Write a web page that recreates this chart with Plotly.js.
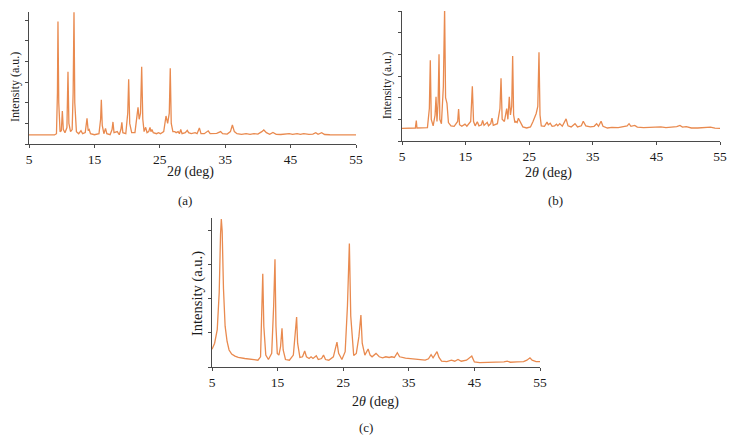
<!DOCTYPE html>
<html>
<head>
<meta charset="utf-8">
<script src="https://cdn.plot.ly/plotly-3.0.1.min.js"></script>
<style>
  html, body { margin: 0; padding: 0; background: #fff; }
  #chart { width: 734px; height: 441px; }
</style>
</head>
<body>
<div id="chart"></div>
<script>
const angleA = [5.0, 8.9, 9.2, 9.35, 9.43, 9.55, 9.75, 9.95, 10.1, 10.25, 10.5, 10.8, 10.96, 11.1, 11.35, 11.6, 11.75, 11.88, 12.0, 12.25, 12.6, 12.95, 13.2, 13.6, 13.87, 14.05, 14.2, 14.4, 15.0, 15.7, 15.95, 16.06, 16.2, 16.45, 16.7, 16.9, 17.4, 17.7, 17.84, 18.0, 18.5, 18.8, 19.05, 19.2, 19.35, 19.8, 20.1, 20.24, 20.4, 20.7, 21.2, 21.5, 21.67, 21.85, 22.05, 22.23, 22.4, 22.6, 22.84, 23.05, 23.3, 23.5, 23.65, 23.8, 24.0, 24.5, 24.8, 25.1, 25.6, 25.95, 26.2, 26.45, 26.6, 26.75, 27.0, 27.3, 27.5, 27.8, 28.0, 28.2, 28.4, 28.9, 29.2, 29.4, 29.8, 30.4, 30.7, 31.05, 31.3, 31.8, 32.4, 32.7, 33.3, 33.7, 34.3, 34.6, 35.3, 35.8, 36.1, 36.4, 36.8, 37.5, 38.2, 38.8, 39.4, 40.0, 40.6, 40.9, 41.3, 41.8, 42.3, 42.8, 43.5, 44.2, 44.8, 45.3, 46.0, 46.5, 47.0, 47.8, 48.4, 48.85, 49.2, 49.75, 50.2, 51.0, 52.0, 53.0, 53.5, 54.2, 55.0];
const intensityA = [0.44, 0.44, 0.5, 2.5, 5.94, 2.0, 0.6, 0.65, 1.6, 0.7, 0.55, 0.8, 3.51, 1.0, 0.6, 0.7, 2.5, 6.46, 2.0, 0.6, 0.5, 0.65, 0.5, 0.55, 1.25, 0.65, 0.7, 0.5, 0.45, 0.5, 1.2, 2.14, 0.9, 0.5, 0.76, 0.5, 0.45, 0.7, 1.07, 0.55, 0.6, 0.45, 0.7, 1.05, 0.55, 0.5, 1.5, 3.14, 1.0, 0.55, 0.55, 1.2, 1.78, 1.2, 1.5, 3.75, 1.2, 0.6, 0.81, 0.55, 0.6, 0.8, 0.6, 0.7, 0.55, 0.5, 0.55, 0.5, 0.6, 1.36, 1.0, 1.5, 3.67, 1.0, 0.6, 0.6, 0.55, 0.6, 0.5, 0.7, 0.5, 0.55, 0.66, 0.55, 0.5, 0.55, 0.5, 0.78, 0.5, 0.5, 0.64, 0.5, 0.5, 0.52, 0.6, 0.5, 0.48, 0.6, 0.92, 0.6, 0.5, 0.47, 0.5, 0.47, 0.5, 0.48, 0.6, 0.68, 0.55, 0.47, 0.56, 0.47, 0.46, 0.5, 0.5, 0.47, 0.5, 0.47, 0.5, 0.47, 0.48, 0.55, 0.47, 0.55, 0.46, 0.45, 0.45, 0.47, 0.44, 0.45, 0.44];

const angleB = [5.0, 7.1, 7.25, 7.35, 9.0, 9.3, 9.45, 9.6, 9.9, 10.2, 10.35, 10.5, 10.68, 10.82, 10.95, 11.2, 11.5, 11.7, 11.85, 12.07, 12.3, 12.7, 13.2, 13.75, 13.9, 14.05, 14.4, 14.9, 15.2, 15.8, 16.06, 16.25, 16.5, 16.84, 17.1, 17.5, 17.68, 17.9, 18.4, 18.6, 18.95, 19.15, 19.35, 20.0, 20.4, 20.57, 20.75, 21.1, 21.46, 21.65, 21.87, 22.05, 22.25, 22.4, 22.55, 22.75, 22.9, 23.1, 23.3, 23.6, 24.0, 24.6, 25.2, 25.6, 25.8, 26.1, 26.35, 26.54, 26.7, 26.9, 27.4, 27.8, 28.0, 28.3, 28.6, 29.0, 29.3, 29.5, 29.8, 30.2, 30.8, 31.1, 31.6, 32.2, 32.6, 33.2, 33.5, 33.9, 34.6, 35.2, 35.6, 35.9, 36.3, 36.6, 37.3, 38.0, 39.0, 39.8, 40.4, 40.7, 41.0, 41.6, 42.0, 43.0, 44.0, 45.0, 45.7, 46.5, 47.5, 48.2, 48.7, 49.1, 49.7, 50.5, 51.5, 52.5, 53.5, 54.2, 55.0];
const intensityB = [0.58, 0.6, 0.94, 0.6, 0.62, 1.5, 3.73, 1.0, 0.7, 1.2, 2.04, 0.9, 1.8, 4.0, 1.0, 0.8, 2.5, 6.1, 2.0, 1.74, 0.85, 0.7, 0.68, 0.9, 1.47, 0.75, 0.68, 0.78, 0.68, 0.9, 2.53, 0.9, 0.7, 0.89, 0.7, 0.75, 0.95, 0.72, 0.86, 0.7, 0.8, 1.06, 0.72, 0.8, 1.5, 2.89, 1.0, 0.9, 1.5, 1.0, 2.04, 1.2, 1.6, 3.92, 1.2, 0.85, 0.9, 0.85, 1.05, 0.85, 0.65, 0.6, 0.65, 0.9, 1.07, 1.27, 1.6, 4.09, 1.2, 0.7, 0.68, 0.87, 0.75, 0.82, 0.68, 0.7, 0.78, 0.7, 0.8, 0.68, 1.02, 0.7, 0.65, 0.8, 0.65, 0.7, 0.91, 0.7, 0.65, 0.68, 0.8, 0.68, 0.91, 0.68, 0.6, 0.63, 0.62, 0.65, 0.7, 0.8, 0.68, 0.72, 0.64, 0.62, 0.63, 0.62, 0.65, 0.62, 0.63, 0.66, 0.72, 0.64, 0.66, 0.6, 0.6, 0.61, 0.64, 0.59, 0.58];

const angleC = [5.0, 5.4, 5.8, 6.1, 6.3, 6.42, 6.55, 6.75, 7.0, 7.3, 7.6, 8.0, 8.5, 9.0, 10.0, 11.0, 12.0, 12.4, 12.6, 12.74, 12.9, 13.2, 13.6, 14.1, 14.4, 14.6, 14.75, 14.95, 15.2, 15.45, 15.67, 15.85, 16.2, 16.8, 17.4, 17.75, 17.9, 18.05, 18.4, 18.8, 19.13, 19.4, 19.8, 20.1, 20.4, 20.9, 21.2, 21.7, 22.0, 22.3, 22.8, 23.5, 23.85, 24.05, 24.3, 24.8, 25.3, 25.65, 25.94, 26.15, 26.6, 27.0, 27.4, 27.7, 27.9, 28.3, 28.8, 29.1, 29.4, 29.8, 30.0, 30.5, 31.0, 31.5, 32.0, 32.4, 32.8, 33.25, 33.6, 34.5, 35.5, 36.5, 37.5, 38.0, 38.4, 38.7, 39.0, 39.3, 39.6, 40.0, 40.8, 41.5, 42.0, 42.5, 43.0, 43.8, 44.6, 45.0, 45.8, 46.5, 47.5, 48.5, 49.5, 50.0, 50.5, 51.5, 52.5, 53.0, 53.47, 53.8, 54.4, 55.0];
const intensityC = [0.52, 0.7, 1.1, 2.2, 3.9, 4.35, 4.0, 2.3, 1.2, 0.75, 0.5, 0.38, 0.32, 0.28, 0.25, 0.22, 0.2, 0.3, 1.5, 2.74, 1.2, 0.35, 0.22, 0.4, 1.8, 3.17, 1.2, 0.4, 0.35, 0.6, 1.14, 0.5, 0.22, 0.2, 0.35, 1.0, 1.47, 0.7, 0.28, 0.3, 0.47, 0.3, 0.25, 0.3, 0.25, 0.33, 0.22, 0.25, 0.35, 0.22, 0.2, 0.3, 0.55, 0.73, 0.4, 0.22, 0.45, 1.8, 3.63, 1.5, 0.34, 0.4, 0.9, 1.53, 0.7, 0.35, 0.53, 0.35, 0.3, 0.38, 0.4, 0.3, 0.27, 0.3, 0.28, 0.3, 0.28, 0.42, 0.3, 0.26, 0.24, 0.22, 0.2, 0.24, 0.36, 0.27, 0.35, 0.45, 0.28, 0.17, 0.16, 0.2, 0.17, 0.22, 0.17, 0.2, 0.32, 0.15, 0.13, 0.13, 0.14, 0.15, 0.15, 0.17, 0.14, 0.15, 0.16, 0.2, 0.27, 0.2, 0.16, 0.16];

const angleTicks = [5, 15, 25, 35, 45, 55];
const panelLabels = ['(a)', '(b)', '(c)'];

const lineColor = '#e98a4f';
const axisColor = '#4a4a4a';
const serif = '"Liberation Serif", "Times New Roman", serif';

function trace(x, y, axis) {
    return {
        x: x,
        y: y,
        xaxis: 'x' + axis,
        yaxis: 'y' + axis,
        type: 'scatter',
        mode: 'lines',
        line: { color: lineColor, width: 1.3 },
        cliponaxis: false,
        hoverinfo: 'skip',
        showlegend: false,
    };
}

function xAxis(domain, anchor) {
    return {
        domain: domain,
        anchor: anchor,
        range: [5, 55],
        tickmode: 'array',
        tickvals: angleTicks,
        ticks: 'outside',
        ticklen: 3,
        tickcolor: axisColor,
        showline: true,
        linecolor: axisColor,
        linewidth: 1,
        showgrid: false,
        zeroline: false,
        tickfont: { family: serif, size: 13.5, color: '#1a1a1a' },
    };
}

function yAxis(domain, anchor, top) {
    return {
        domain: domain,
        anchor: anchor,
        range: [0, top],
        dtick: 1,
        ticks: 'outside',
        ticklen: 3,
        tickcolor: axisColor,
        showline: true,
        linecolor: axisColor,
        linewidth: 1,
        showgrid: false,
        zeroline: false,
        showticklabels: false,
    };
}

function note(text, x, y, size, angle) {
    return {
        text: text,
        xref: 'paper',
        yref: 'paper',
        x: x / 734,
        y: 1 - y / 441,
        xanchor: 'center',
        yanchor: 'middle',
        showarrow: false,
        textangle: angle || 0,
        font: { family: serif, size: size, color: '#1a1a1a' },
    };
}

const data = [
    trace(angleA, intensityA, ''),
    trace(angleB, intensityB, '2'),
    trace(angleC, intensityC, '3'),
];

const layout = {
    width: 734,
    height: 441,
    margin: { l: 0, r: 0, t: 0, b: 0 },
    paper_bgcolor: '#ffffff',
    plot_bgcolor: '#ffffff',
    xaxis: xAxis([29 / 734, 356 / 734], 'y'),
    yaxis: yAxis([1 - 144 / 441, 1 - 12.3 / 441], 'x', 6.39),
    xaxis2: xAxis([402 / 734, 720 / 734], 'y2'),
    yaxis2: yAxis([1 - 141 / 441, 1 - 11 / 441], 'x2', 6.0),
    xaxis3: xAxis([212 / 734, 540 / 734], 'y3'),
    yaxis3: yAxis([1 - 367 / 441, 1 - 218 / 441], 'x3', 4.38),
    annotations: [
        note('2<i>θ</i> (deg)', 190, 172, 14),
        note('Intensity (a.u.)', 15, 87, 12, -90),
        note(panelLabels[0], 185, 200, 13),
        note('2<i>θ</i> (deg)', 548, 173, 14),
        note('Intensity (a.u.)', 387, 85, 11.5, -90),
        note(panelLabels[1], 555, 200, 13),
        note('2<i>θ</i> (deg)', 375, 402, 14),
        note('Intensity (a.u.)', 197, 294, 14.5, -90),
        note(panelLabels[2], 366, 427, 13),
    ],
};

Plotly.newPlot('chart', data, layout, { displayModeBar: false, staticPlot: true });
</script>
</body>
</html>
